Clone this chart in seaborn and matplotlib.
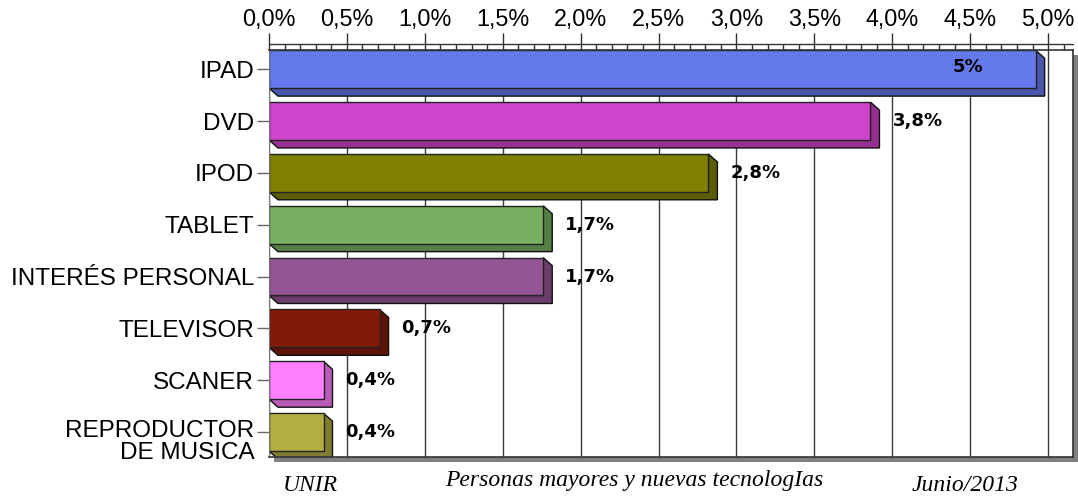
import numpy as np
import matplotlib
matplotlib.use("Agg")
import matplotlib.pyplot as plt
import matplotlib.colors as mcolors
from matplotlib.patches import Polygon, Rectangle
from matplotlib.transforms import IdentityTransform, offset_copy, ScaledTranslation
from matplotlib.ticker import MultipleLocator, FuncFormatter
import seaborn as sns

# data
categories = ["IPAD", "DVD", "IPOD", "TABLET", "INTERÉS PERSONAL",
              "TELEVISOR", "SCANER", "REPRODUCTOR\nDE MUSICA"]
values = [4.92, 3.86, 2.82, 1.76, 1.76, 0.71, 0.35, 0.35]
value_labels = ["5%", "3,8%", "2,8%", "1,7%", "1,7%", "0,7%", "0,4%", "0,4%"]
colors = ["#6479EC", "#D044CC", "#808000", "#77B060", "#955595",
          "#821A08", "#FF80FF", "#B3AE42"]
footer_left = "UNIR"
footer_mid = "Personas mayores y nuevas tecnologIas"
footer_right = "Junio/2013"

sns.set_style("white")
plt.rcParams["font.family"] = ["Liberation Sans", "DejaVu Sans"]
plt.rcParams["text.color"] = "black"
plt.rcParams["xtick.labelcolor"] = "black"
plt.rcParams["ytick.labelcolor"] = "black"

fig = plt.figure(figsize=(10.78, 4.97), dpi=100)
ax = fig.add_axes([0.2495, 0.0805, 0.9954 - 0.2495, 0.8994 - 0.0805])

sns.barplot(x=values, y=categories, hue=categories, palette=colors,
            legend=False, orient="h", width=0.73, edgecolor="#222222",
            linewidth=1, saturation=1, ax=ax, zorder=2)

ax.set_xlim(0, 5.16)
ax.set_ylim(7.48, -0.37)
ax.set_xlabel("")
ax.set_ylabel("")

# top axis with major/minor ticks
ax.xaxis.tick_top()
ax.xaxis.set_major_locator(MultipleLocator(0.5))
ax.xaxis.set_minor_locator(MultipleLocator(0.1))
ax.xaxis.set_major_formatter(FuncFormatter(lambda v, p: f"{v:.1f}%".replace(".", ",")))
ax.tick_params(axis="x", which="major", direction="out", length=12.2, width=1,
               color="#333333", labelsize=16.8, pad=1.5, labelcolor="black")
ax.tick_params(axis="x", which="minor", direction="out", length=4.3, width=1,
               color="#333333")
ax.tick_params(axis="y", direction="out", length=8.6, width=1, color="#666666",
               labelsize=17.5, pad=2, left=True, labelcolor="black")
for lab in ax.get_yticklabels():
    lab.set_linespacing(1.0)
    if "\n" in lab.get_text():
        # the two-line label sits a little below its tick in the original
        lab.set_transform(lab.get_transform() + ScaledTranslation(0, -0.07, fig.dpi_scale_trans))

ax.set_axisbelow(True)
ax.grid(axis="x", which="major", color="#3a3a3a", lw=1)
ax.grid(axis="y", visible=False)

for side in ["top", "right", "bottom"]:
    ax.spines[side].set_color("#333333")
    ax.spines[side].set_linewidth(1.2)
ax.spines["left"].set_color("#777777")

# line closing the minor tick band above the plot
ax.plot([0, 1], [1, 1], transform=offset_copy(ax.transAxes, fig=fig, y=6, units="dots"),
        color="#333333", lw=1, clip_on=False)

# grey drop shadow of the plot frame
fig.add_artist(Rectangle((0, 0), 1, 1, transform=offset_copy(ax.transAxes, fig=fig, x=5, y=-5, units="dots"),
                         facecolor="#808080", edgecolor="none", zorder=-1))

# 3D depth of each bar
dx, dy = 9, 8
fig.canvas.draw()
for patch, col in zip(ax.patches, colors):
    x0, y0 = patch.get_x(), patch.get_y()
    w, h = patch.get_width(), patch.get_height()
    (ax_, ay_), (bx_, by_) = ax.transData.transform([(x0, y0), (x0 + w, y0 + h)])
    L, R = min(ax_, bx_), max(ax_, bx_)
    B, T = min(ay_, by_), max(ay_, by_)
    dark = np.array(mcolors.to_rgb(col)) * 0.72
    verts = [(L, B), (L + dx, B - dy), (R + dx, B - dy), (R + dx, T - dy), (R, T), (R, B)]
    ax.add_patch(Polygon(verts, closed=True, transform=IdentityTransform(),
                         facecolor=dark, edgecolor="#111111", lw=1, zorder=1.5))

# value labels
for i, (v, lab) in enumerate(zip(values, value_labels)):
    if v > 4.5:
        ax.annotate(lab, xy=(v, i), xytext=(-52, 2), textcoords="offset pixels",
                    ha="right", va="center", fontsize=13, fontweight="bold",
                    family="DejaVu Sans", color="black", zorder=5)
    else:
        ax.annotate(lab, xy=(v, i), xytext=(22, 0), textcoords="offset pixels",
                    ha="left", va="center", fontsize=13, fontweight="bold",
                    family="DejaVu Sans", color="black", zorder=5)

serif = dict(family="Liberation Serif", style="italic", fontsize=17, color="black")
fig.text(0.2625, 0.024, footer_left, ha="left", va="center", **serif)
fig.text(0.588, 0.034, footer_mid, ha="center", va="center", **serif)
fig.text(0.846, 0.024, footer_right, ha="left", va="center", **serif)

fig.savefig("out.png", dpi=100)
